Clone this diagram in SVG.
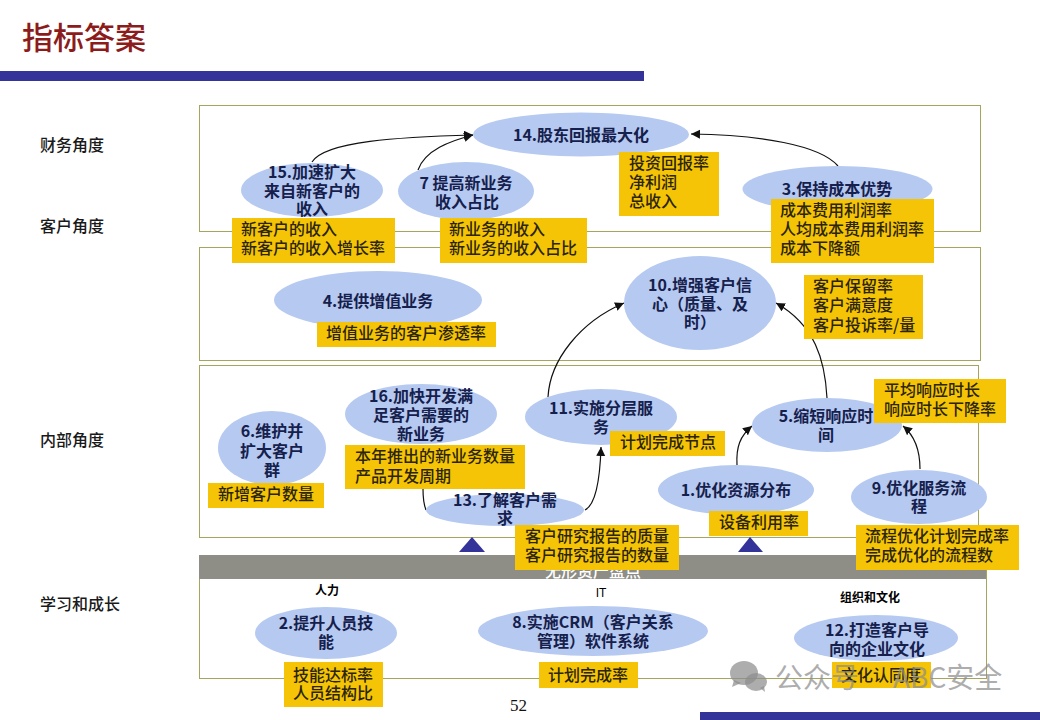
<svg xmlns="http://www.w3.org/2000/svg" width="1040" height="720" viewBox="0 0 1040 720">
<style>
text{font-family:"Noto Sans CJK SC","Liberation Sans",sans-serif}
.frame{fill:#fff;stroke:#a5a55c;stroke-width:1}
.band{fill:#333399}
.e{fill:#b5c9f1}
.y{fill:#f5c406}
.t{font-size:16px;font-weight:700;fill:#15204c;text-anchor:middle}
.m{font-size:16px;font-weight:500;fill:#2b2408}
.side{font-size:16px;font-weight:500;fill:#1a1a1a}
.small{font-size:12px;font-weight:700;fill:#000;text-anchor:middle}
.c{fill:none;stroke:#111;stroke-width:1.2}
.w{fill:#8e8e8e;opacity:.72}
</style>
<defs>
<marker id="a" markerUnits="userSpaceOnUse" markerWidth="10" markerHeight="10" refX="9" refY="4.5" orient="auto"><path d="M0 0L9 4.5L0 9z" fill="#111"/></marker>
</defs>
<rect width="1040" height="720" fill="#fff"/>
<text x="22" y="49" style="font-size:31px;fill:#8c1c1c;font-weight:500">指标答案</text>
<rect class="band" x="0" y="71" width="644" height="10"/>
<rect class="band" x="700" y="712" width="340" height="8"/>
<text class="side" x="40" y="151">财务角度</text>
<text class="side" x="40" y="232">客户角度</text>
<text class="side" x="40" y="446">内部角度</text>
<text class="side" x="40" y="610">学习和成长</text>
<g id="frames">
<rect class="frame" x="199.500" y="105.500" width="781" height="126"/>
<rect class="frame" x="199.500" y="247.500" width="781" height="113"/>
<rect class="frame" x="199.500" y="365.500" width="779" height="172"/>
<rect class="frame" x="199.500" y="570.500" width="787" height="108"/>
<rect x="199" y="555" width="787" height="24" fill="#8e8e86"/>
<text x="545" y="577" style="font-size:16px;fill:#fff;font-weight:500">无形资产盘点</text>
<path class="band" d="M472 537L485 552H459z"/>
<path class="band" d="M750 537L763 552H738z"/>
<text class="small" x="327" y="595">人力</text>
<text x="601" y="597" style="font-size:12px;fill:#000;font-family:'Liberation Sans',sans-serif;text-anchor:middle">IT</text>
<text class="small" x="870" y="602">组织和文化</text>
</g>
<g id="connectors">
<path class="c" marker-end="url(#a)" d="M312 162C325 141 400 137 473 135"/>
<path class="c" marker-end="url(#a)" d="M418 170C425 150 450 141 473 135"/>
<path class="c" marker-end="url(#a)" d="M838 166C820 145 760 135 691 134"/>
<path class="c" marker-end="url(#a)" d="M548 397C550 360 580 322 624 303"/>
<path class="c" marker-end="url(#a)" d="M827 398C825 360 815 325 776 303"/>
<path class="c" marker-end="url(#a)" d="M585 510C595 505 600 480 601 447"/>
<path class="c" d="M423 489C423 495 424 505 426 510"/>
<path class="c" marker-end="url(#a)" d="M737 465C736 447 740 436 752 426"/>
<path class="c" marker-end="url(#a)" d="M920 469C920 450 915 436 903 426"/>
</g>
<g id="n14"><ellipse class="e" cx="581" cy="134.500" rx="108" ry="22"/><rect class="y" x="619" y="152" width="100" height="64"/><text class="t" x="581" y="141">14.股东回报最大化</text><text class="m" x="629" y="169">投资回报率</text><text class="m" x="629" y="188">净利润</text><text class="m" x="629" y="207">总收入</text></g>
<g id="n15"><ellipse class="e" cx="312" cy="190" rx="71" ry="27"/><text class="t" x="312" y="178">15.加速扩大</text><text class="t" x="312" y="197">来自新客户的</text><text class="t" x="312" y="215">收入</text><rect class="y" x="232" y="218" width="163" height="45"/><text class="m" x="241" y="235">新客户的收入</text><text class="m" x="241" y="254">新客户的收入增长率</text></g>
<g id="n7"><ellipse class="e" cx="466" cy="191" rx="68" ry="29"/><text class="t" x="466" y="189">7 提高新业务</text><text class="t" x="467" y="208">收入占比</text><rect class="y" x="440" y="218" width="147" height="45"/><text class="m" x="449" y="235">新业务的收入</text><text class="m" x="449" y="254">新业务的收入占比</text></g>
<g id="n3"><ellipse class="e" cx="837.500" cy="189" rx="95" ry="23"/><text class="t" x="837" y="195">3.保持成本优势</text><rect class="y" x="771" y="199" width="163" height="64"/><text class="m" x="780" y="216">成本费用利润率</text><text class="m" x="780" y="235">人均成本费用利润率</text><text class="m" x="780" y="254">成本下降额</text></g>
<g id="n4"><ellipse class="e" cx="378" cy="300" rx="104" ry="29"/><text class="t" x="378" y="307">4.提供增值业务</text><rect class="y" x="317" y="322" width="179" height="25"/><text class="m" x="326" y="339">增值业务的客户渗透率</text></g>
<g id="n10"><ellipse class="e" cx="700" cy="303" rx="76" ry="47"/><text class="t" x="700" y="291">10.增强客户信</text><text class="t" x="700" y="310">心（质量、及</text><text class="t" x="700" y="328">时）</text><rect class="y" x="804" y="275" width="119" height="64"/><text class="m" x="813" y="292">客户保留率</text><text class="m" x="813" y="311">客户满意度</text><text class="m" x="813" y="331">客户投诉率/量</text></g>
<g id="n6"><ellipse class="e" cx="272" cy="448" rx="54" ry="37"/><text class="t" x="272" y="437">6.维护并</text><text class="t" x="272" y="457">扩大客户</text><text class="t" x="272" y="476">群</text><rect class="y" x="208" y="483" width="116" height="25"/><text class="m" x="218" y="500">新增客户数量</text></g>
<g id="n16"><ellipse class="e" cx="421" cy="414" rx="76" ry="30"/><text class="t" x="421" y="402">16.加快开发满</text><text class="t" x="421" y="421">足客户需要的</text><text class="t" x="421" y="440">新业务</text><rect class="y" x="345" y="445" width="180" height="44"/><text class="m" x="355" y="462">本年推出的新业务数量</text><text class="m" x="355" y="482">产品开发周期</text></g>
<g id="n11"><ellipse class="e" cx="601" cy="417" rx="76" ry="28"/><text class="t" x="601" y="414">11.实施分层服</text><text class="t" x="601" y="433">务</text><rect class="y" x="610" y="431" width="115" height="25"/><text class="m" x="620" y="448">计划完成节点</text></g>
<g id="n13"><ellipse class="e" cx="505" cy="510" rx="79" ry="16"/><text class="t" x="505" y="506">13.了解客户需</text><text class="t" x="505" y="524">求</text><rect class="y" x="515" y="525" width="164" height="45"/><text class="m" x="525" y="542">客户研究报告的质量</text><text class="m" x="525" y="561">客户研究报告的数量</text></g>
<g id="n5"><ellipse class="e" cx="827" cy="425" rx="75" ry="27"/><text class="t" x="826" y="422">5.缩短响应时</text><text class="t" x="826" y="441">间</text><rect class="y" x="874" y="379" width="132" height="44"/><text class="m" x="884" y="396">平均响应时长</text><text class="m" x="884" y="415">响应时长下降率</text></g>
<g id="n1"><ellipse class="e" cx="736" cy="490" rx="78" ry="25"/><text class="t" x="736" y="496">1.优化资源分布</text><rect class="y" x="709" y="511" width="99" height="25"/><text class="m" x="719" y="528">设备利用率</text></g>
<g id="n9"><ellipse class="e" cx="919" cy="497" rx="68" ry="27"/><text class="t" x="919" y="494">9.优化服务流</text><text class="t" x="919" y="512">程</text><rect class="y" x="856" y="525" width="163" height="45"/><text class="m" x="865" y="542">流程优化计划完成率</text><text class="m" x="865" y="561">完成优化的流程数</text></g>
<g id="n2"><ellipse class="e" cx="326" cy="633" rx="71" ry="26"/><text class="t" x="326" y="629">2.提升人员技</text><text class="t" x="326" y="648">能</text><rect class="y" x="284" y="662" width="99" height="45"/><text class="m" x="293" y="681">技能达标率</text><text class="m" x="293" y="699">人员结构比</text></g>
<g id="n8"><ellipse class="e" cx="593" cy="631" rx="115" ry="25"/><text class="t" x="593" y="628">8.实施CRM（客户关系</text><text class="t" x="593" y="647">管理）软件系统</text><rect class="y" x="539" y="662" width="99" height="26"/><text class="m" x="548" y="681">计划完成率</text></g>
<g id="n12"><ellipse class="e" cx="876" cy="638" rx="82" ry="23"/><text class="t" x="877" y="636">12.打造客户导</text><text class="t" x="877" y="655">向的企业文化</text><rect class="y" x="832" y="662" width="99" height="26"/><text class="m" x="841" y="681">文化认同度</text></g>
<text x="510" y="711" style="font-family:'Liberation Serif',serif;font-size:17px;fill:#111">52</text>
<g id="watermark">
<ellipse class="w" cx="744" cy="673" rx="14" ry="12"/>
<path class="w" d="M734 680L732 687L741 683z"/>
<ellipse class="w" cx="756" cy="682" rx="11" ry="9"/>
<path class="w" d="M760 688L765 692L764 686z"/>
<text x="775" y="688" style="font-size:28px;fill:#8e8e8e;opacity:.72">公众号</text>
<text x="893" y="688" style="font-size:28px;fill:#8e8e8e;opacity:.72">ABC安全</text>
</g>
</svg>
